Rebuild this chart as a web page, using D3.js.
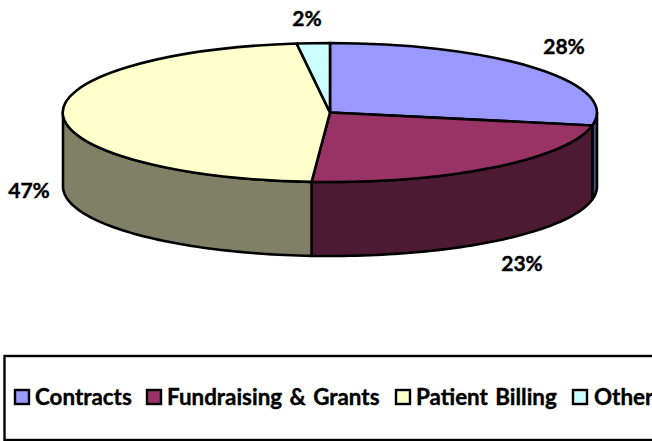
<!DOCTYPE html>
<html lang="en">
<head>
<meta charset="UTF-8">
<title>Revenue sources pie</title>
<script src="https://d3js.org/d3.v7.min.js"></script>
<style>
  html, body { margin: 0; padding: 0; background: #fff; overflow: hidden; }
  svg { display: block; }
  text { font-family: Lato, "Open Sans", sans-serif; font-weight: 700; fill: #000; stroke: #000; stroke-width: 0.4px; }
</style>
</head>
<body>
<script>
const categories = ['Contracts', 'Fundraising & Grants', 'Patient Billing', 'Other'];
const values = [28, 23.1, 46.9, 2];
const topColors = ['#9999ff', '#993366', '#ffffcc', '#ccffff'];
const sideColors = ['#4d4d80', '#4d1a33', '#808066', '#668080'];
const percentLabels = ['28%', '23%', '47%', '2%'];

const width = 652, height = 441;
const cx = 330, cy = 112.5, rx = 267, ry = 69.5, depth = 74;

// label and legend spots, tuned by eye
const labelPos = [[564, 54], [522, 271], [29, 198], [307, 26]];
const legendSwatchX = [15, 147, 396, 573];
const legendTextX = [35, 167, 416, 594];

const svg = d3.select('body').append('svg')
  .attr('width', width)
  .attr('height', height);

const slices = d3.pie().sort(null).value(d => d)(values);

// flat pie projected to an ellipse, angle 0 is at the top
const px = a => cx + rx * Math.sin(a);
const py = a => cy - ry * Math.cos(a);

// side walls, only the front half of the rim can be seen
const sideLine = d3.line();
function sidePath(d) {
  const a0 = Math.max(d.startAngle, Math.PI / 2);
  const a1 = Math.min(d.endAngle, Math.PI * 1.5);
  if (a1 <= a0) return null;
  const steps = d3.range(0, 61).map(i => a0 + (a1 - a0) * i / 60);
  const pts = steps.map(a => [px(a), py(a)])
    .concat(steps.slice().reverse().map(a => [px(a), py(a) + depth]));
  return sideLine(pts) + 'Z';
}

svg.append('g').selectAll('path')
  .data(slices.filter(d => sidePath(d)))
  .join('path')
  .attr('d', sidePath)
  .attr('fill', d => sideColors[d.index])
  .attr('stroke', '#000')
  .attr('stroke-width', 2.6)
  .attr('stroke-linejoin', 'round');

const arc = d3.arc().innerRadius(0).outerRadius(1);

svg.append('g')
  .attr('transform', `translate(${cx},${cy}) scale(${rx},${ry})`)
  .selectAll('path')
  .data(slices)
  .join('path')
  .attr('d', arc)
  .attr('fill', d => topColors[d.index])
  .attr('stroke', '#000')
  .attr('stroke-width', 2.6)
  .attr('stroke-linejoin', 'round')
  .attr('vector-effect', 'non-scaling-stroke');

svg.append('g').selectAll('text')
  .data(percentLabels)
  .join('text')
  .attr('x', (d, i) => labelPos[i][0])
  .attr('y', (d, i) => labelPos[i][1])
  .attr('text-anchor', 'middle')
  .attr('font-size', 21)
  .text(d => d);

// legend box runs off the right edge of the window
svg.append('rect')
  .attr('x', 4.5)
  .attr('y', 356)
  .attr('width', 680)
  .attr('height', 84)
  .attr('fill', '#fff')
  .attr('stroke', '#000')
  .attr('stroke-width', 2.4);

const legend = svg.append('g').selectAll('g')
  .data(categories)
  .join('g');

legend.append('rect')
  .attr('x', (d, i) => legendSwatchX[i])
  .attr('y', 390)
  .attr('width', 14)
  .attr('height', 14)
  .attr('fill', (d, i) => topColors[i])
  .attr('stroke', '#000')
  .attr('stroke-width', 2.4);

legend.append('text')
  .attr('x', (d, i) => legendTextX[i])
  .attr('y', 404.5)
  .attr('font-size', 22.4)
  .attr('word-spacing', 2)
  .text(d => d);
</script>
</body>
</html>
